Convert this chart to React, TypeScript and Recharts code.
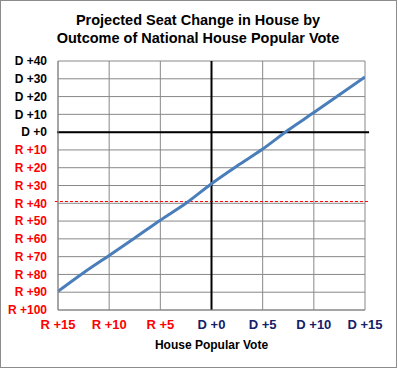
import React from "react";
import {
  LineChart,
  Line,
  XAxis,
  YAxis,
  CartesianGrid,
  ReferenceLine,
} from "recharts";

const voteMargins = [-15, -12.5, -10, -7.5, -5, -2.5, 0, 2.5, 5, 7.5, 10, 12.5, 15];
const seatChanges = [-89.5, -79, -69.3, -59.5, -49.5, -40, -29, -19, -9.5, 1.2, 11, 21, 31];
const xTicks = [-15, -10, -5, 0, 5, 10, 15];
const yTicks = [-100, -90, -80, -70, -60, -50, -40, -30, -20, -10, 0, 10, 20, 30, 40];
const majorityThreshold = -39;

const titleLines = ["Projected Seat Change in House by", "Outcome of National House Popular Vote"];
const xTitle = "House Popular Vote";

const data = voteMargins.map((x, i) => ({ x, y: seatChanges[i] }));

const FONT = '"Liberation Sans", Arial, sans-serif';
const RED = "#FF0000";
const NAVY = "#14206B";
const GRID = "#888888";

const fmt = (v: number) => (v < 0 ? `R +${Math.abs(v)}` : `D +${v}`);

const YTick = (props: any) => {
  const { x, y, payload } = props;
  const v = payload.value;
  return (
    <text
      x={x}
      y={y}
      dy="0.355em"
      textAnchor="end"
      fontFamily={FONT}
      fontWeight="bold"
      fontSize={12}
      fill={v < 0 ? RED : "#000000"}
    >
      {fmt(v)}
    </text>
  );
};

const XTick = (props: any) => {
  const { x, y, payload } = props;
  const v = payload.value;
  return (
    <text
      x={x}
      y={y}
      dy="0.71em"
      textAnchor="middle"
      fontFamily={FONT}
      fontWeight="bold"
      fontSize={13}
      fill={v < 0 ? RED : NAVY}
    >
      {fmt(v)}
    </text>
  );
};

export default function App() {
  return (
    <div style={{ position: "relative", width: 398, height: 369, background: "#fff" }}>
      <style>{`body{margin:0;}`}</style>
      <LineChart
        width={398}
        height={369}
        data={data}
        margin={{ top: 61, right: 33, bottom: 19, left: 0 }}
      >
        <CartesianGrid stroke={GRID} strokeWidth={1} />
        <XAxis
          dataKey="x"
          type="number"
          domain={[-15, 15]}
          ticks={xTicks}
          tick={<XTick />}
          tickLine={false}
          tickSize={6}
          tickMargin={4}
          axisLine={{ stroke: GRID }}
          height={40}
          interval={0}
          allowDataOverflow
        />
        <YAxis
          type="number"
          domain={[-100, 40]}
          ticks={yTicks}
          tick={<YTick />}
          tickLine={false}
          tickSize={6}
          tickMargin={5}
          axisLine={{ stroke: GRID }}
          width={58}
          interval={0}
          allowDataOverflow
        />
        <ReferenceLine
          segment={[
            { x: -15.3, y: majorityThreshold },
            { x: 15.3, y: majorityThreshold },
          ]}
          ifOverflow="visible"
          stroke={RED}
          strokeDasharray="3 2"
          strokeWidth={1}
        />
        <ReferenceLine
          segment={[
            { x: -15.1, y: 0 },
            { x: 15.4, y: 0 },
          ]}
          ifOverflow="visible"
          stroke="#000"
          strokeWidth={2}
        />
        <ReferenceLine x={0} stroke="#000" strokeWidth={2} />
        <Line
          type="monotone"
          dataKey="y"
          stroke="#4A7EBB"
          strokeWidth={3}
          dot={false}
          isAnimationActive={false}
        />
      </LineChart>
      <div
        style={{
          position: "absolute",
          left: 0,
          top: 11,
          width: 396,
          textAlign: "center",
          fontFamily: FONT,
          fontWeight: "bold",
          fontSize: 14.5,
          lineHeight: "18px",
          color: "#000",
        }}
      >
        {titleLines.map((t) => (
          <div key={t}>{t}</div>
        ))}
      </div>
      <div
        style={{
          position: "absolute",
          left: 58,
          top: 337.5,
          width: 307,
          textAlign: "center",
          fontFamily: FONT,
          fontWeight: "bold",
          fontSize: 12,
          lineHeight: "14px",
          color: "#000",
        }}
      >
        {xTitle}
      </div>
      <div
        style={{
          position: "absolute",
          left: 0,
          top: 0,
          width: 397,
          height: 368,
          boxSizing: "border-box",
          border: "1px solid #8c8c8c",
          pointerEvents: "none",
        }}
      />
    </div>
  );
}
